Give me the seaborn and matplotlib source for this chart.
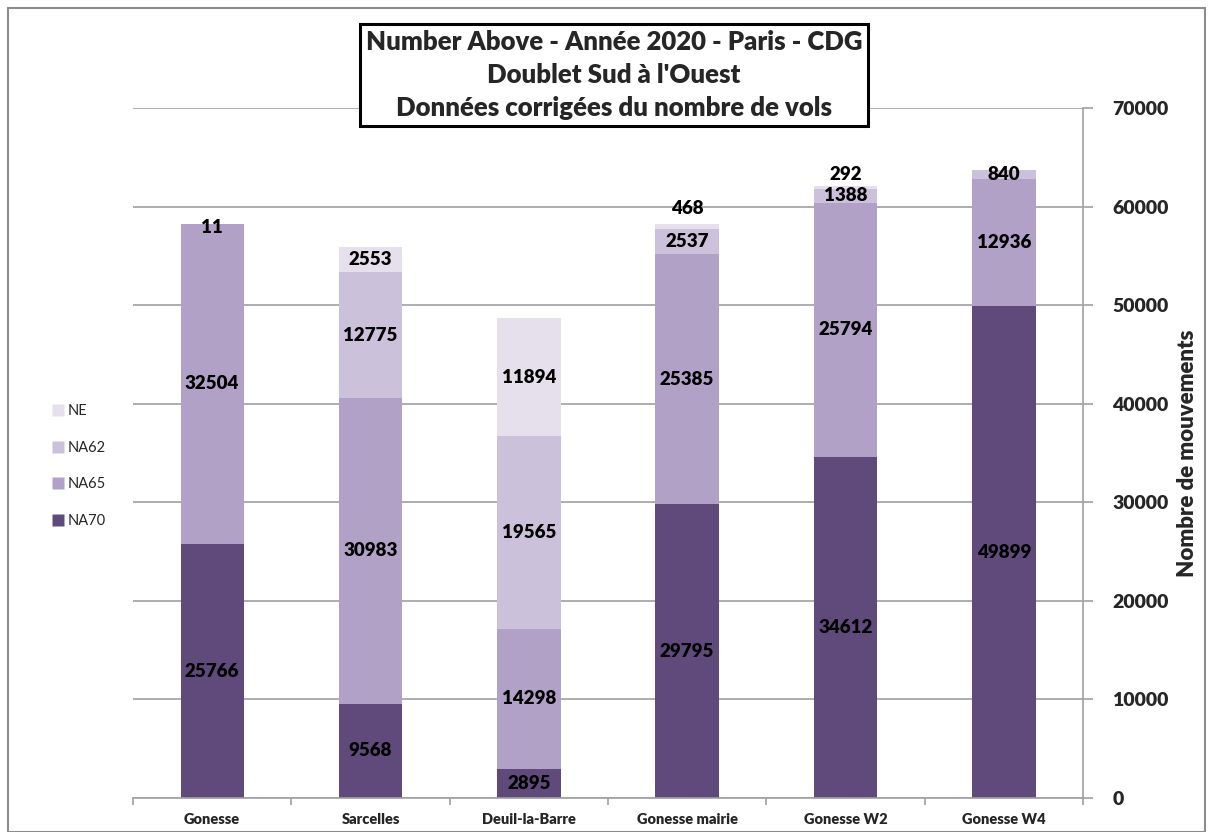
import matplotlib
matplotlib.use("Agg")
import matplotlib.pyplot as plt
from matplotlib.lines import Line2D
from matplotlib.patches import Rectangle
import numpy as np
import pandas as pd
import seaborn as sns

categories = ["Gonesse", "Sarcelles", "Deuil-la-Barre", "Gonesse mairie", "Gonesse W2", "Gonesse W4"]
na70 = [25766, 9568, 2895, 29795, 34612, 49899]
na65 = [32504, 30983, 14298, 25385, 25794, 12936]
na62 = [11, 12775, 19565, 2537, 1388, 840]
ne = [0, 2553, 11894, 468, 292, 0]
series_names = ["NA70", "NA65", "NA62", "NE"]
colors = {"NA70": "#604a7b", "NA65": "#b2a1c7", "NA62": "#ccc1da", "NE": "#e5e0ec"}
yticks = [0, 10000, 20000, 30000, 40000, 50000, 60000, 70000]

sns.set_theme(style="white")
plt.rcParams['font.family'] = ['Lato', 'DejaVu Sans']

fig = plt.figure(figsize=(12.13, 8.32), dpi=100)
ax = fig.add_axes([133/1213, 34/832, (1083-133)/1213, (798-108)/832])

df = pd.DataFrame({"cat": categories, "NA70": na70, "NA65": na65, "NA62": na62, "NE": ne})
cum = df[series_names].cumsum(axis=1)

# draw cumulative bars from top layer down (stacked effect)
for name in reversed(series_names):
    sns.barplot(x=df["cat"], y=cum[name], color=colors[name], width=0.4,
                saturation=1, ax=ax, order=categories, edgecolor="none", linewidth=0)

# value labels
offsets = {(3, "NE"): 13, (4, "NE"): 9}
vals = {"NA70": na70, "NA65": na65, "NA62": na62, "NE": ne}
for i in range(len(categories)):
    base = 0
    for name in series_names:
        v = vals[name][i]
        if v > 0:
            ymid = base + v / 2
            off = offsets.get((i, name), 0)
            if i == 0 and name == "NA62":
                off = -3
            ax.annotate(f"{v}", (i, ymid), xytext=(0, off), textcoords="offset points",
                        ha="center", va="center", fontsize=13.5, fontweight="heavy", color="black")
        base += v

ax.set_xlim(-0.5, len(categories) - 0.5)
ax.set_ylim(0, 70000)
ax.set_yticks(yticks)
ax.set_yticklabels([str(t) for t in yticks], fontsize=14, fontweight="heavy")
ax.yaxis.tick_right()
ax.yaxis.set_label_position("right")
ax.set_ylabel("Nombre de mouvements", fontsize=16, fontweight="heavy", labelpad=6)
ax.set_xlabel("")
ax.set_xticks(range(len(categories)))
ax.set_xticklabels(categories, fontsize=10.5, fontweight="heavy")
ax.set_xticks(np.arange(-0.5, len(categories)), minor=True)
ax.tick_params(axis="x", which="major", length=0, pad=11)
ax.tick_params(axis="x", which="minor", length=5, color="#a0a0a0", width=1.2, direction="out", bottom=True)
ax.tick_params(axis="y", which="major", length=7, color="#a0a0a0", width=1.2, direction="out", right=True, left=False, pad=14)

ax.yaxis.grid(True, color="#a0a0a0", linewidth=1.2)
ax.set_axisbelow(True)
for s in ["top", "left"]:
    ax.spines[s].set_visible(False)
for s in ["right", "bottom"]:
    ax.spines[s].set_color("#a0a0a0")
    ax.spines[s].set_linewidth(1.2)

# legend
handles = [Line2D([], [], marker="s", linestyle="none", markersize=8,
                  markerfacecolor=colors[n], markeredgecolor="none", label=n)
           for n in ["NE", "NA62", "NA65", "NA70"]]
fig.legend(handles=handles, loc="upper left", bbox_to_anchor=(36/1213, 1 - 391/832),
           frameon=False, fontsize=10.5, labelspacing=1.55, handletextpad=0.1, handlelength=1.2)

# title box
fig.text(614/1213, 1 - 75/832,
         "Number Above - Année 2020 - Paris - CDG\nDoublet Sud à l'Ouest\nDonnées corrigées du nombre de vols",
         ha="center", va="center", fontsize=18.5, fontweight="heavy", linespacing=1.45,
         bbox=dict(boxstyle="square,pad=0.22", facecolor="white", edgecolor="black", linewidth=2.2))

# outer frame
fig.patches.append(Rectangle((8/1213, 0), 1 - 16/1213, 1 - 8/832, transform=fig.transFigure,
                             fill=False, edgecolor="#8c8c8c", linewidth=1.5))

fig.savefig("out.png", dpi=100)
